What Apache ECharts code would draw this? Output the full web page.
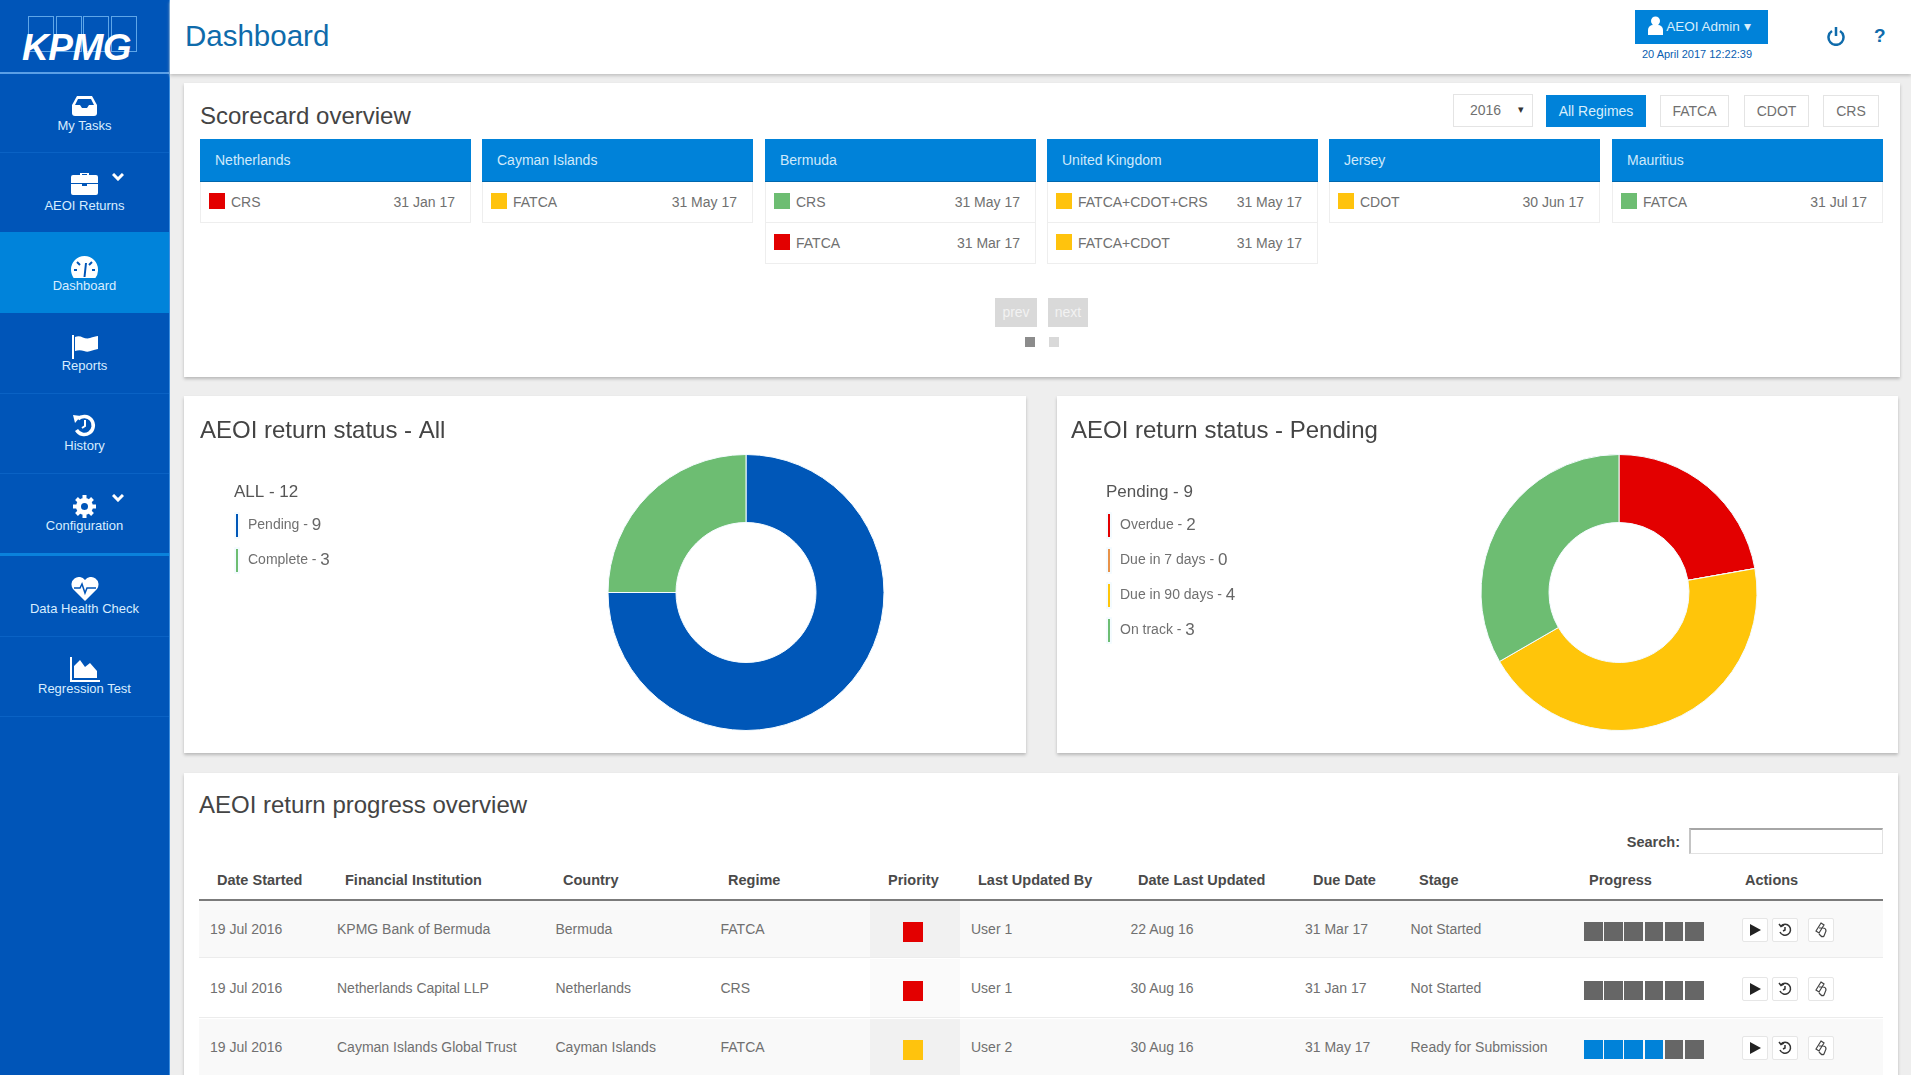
<!DOCTYPE html>
<html>
<head>
<meta charset="utf-8">
<title>Dashboard</title>
<script src="https://cdn.jsdelivr.net/npm/echarts@6/dist/echarts.min.js"></script>
<style>
html, body { margin: 0; padding: 0; width: 1911px; height: 1075px; overflow: hidden; background: #eeeeee; font-family: "Liberation Sans", Arial, sans-serif; color: #666; }
div, span { position: absolute; box-sizing: border-box; white-space: nowrap; }
svg { position: absolute; }
.card { background: #fff; box-shadow: 0 2px 3px #b9b9b9; }
.navLabel { left: 0; width: 169px; text-align: center; font-size: 13px; line-height: 14px; color: #d8edff; }
.navLine { left: 0; width: 169px; height: 1px; background: #0a62c4; }
.cardTitle { font-size: 24px; line-height: 28px; color: #444; }
.scoreHead { background: #0082d9; border-bottom: 1px solid #0067ad; color: #cfe9fb; font-size: 14px; line-height: 42px; padding-left: 15px; }
.scoreCell { background: #fff; border: 1px solid #eeeeee; border-top: 0; }
.scoreText { font-size: 14px; line-height: 16px; color: #707070; }
.tool { background: #fff; border: 1px solid #e4e4e4; font-size: 14px; text-align: center; color: #707070; }
.th { font-size: 14.5px; font-weight: bold; line-height: 16px; color: #4a4a4a; }
.td { font-size: 14px; line-height: 16px; color: #707070; }
.act { background: #fff; border: 1px solid #e6e6e6; border-radius: 2px; }
</style>
</head>
<body>
<div id="sidebar" style="left:0;top:0;width:170px;height:1075px;background:#0055b8;border-right:1px solid #3d8fe0"></div>
<div id="topbar" style="left:170px;top:0;width:1741px;height:74px;background:#fff;box-shadow:0 2px 3px #c4c4c4"></div>
<div id="content"></div>
<div id="pieAll" class="card" style="left:184px;top:396px;width:842px;height:357px"></div>
<div id="piePending" class="card" style="left:1057px;top:396px;width:841px;height:357px"></div>

<script>
// Donut data
const allNames = ['Pending', 'Complete'];
const allValues = [9, 3];
const pendingNames = ['Overdue', 'Due in 7 days', 'Due in 90 days', 'On track'];
const pendingValues = [2, 0, 4, 3];
const allTotalLabel = 'ALL - 12';
const pendingTotalLabel = 'Pending - 9';

// Scorecard data
const scoreCountries = ['Netherlands', 'Cayman Islands', 'Bermuda', 'United Kingdom', 'Jersey', 'Mauritius'];
const scoreRegimes = [['CRS'], ['FATCA'], ['CRS', 'FATCA'], ['FATCA+CDOT+CRS', 'FATCA+CDOT'], ['CDOT'], ['FATCA']];
const scoreDates = [['31 Jan 17'], ['31 May 17'], ['31 May 17', '31 Mar 17'], ['31 May 17', '31 May 17'], ['30 Jun 17'], ['31 Jul 17']];
const scoreStatus = [['red'], ['amber'], ['green', 'red'], ['amber', 'amber'], ['amber'], ['green']];
const regimeButtons = ['All Regimes', 'FATCA', 'CDOT', 'CRS'];

// Table data
const tableHeaders = ['Date Started', 'Financial Institution', 'Country', 'Regime', 'Priority', 'Last Updated By', 'Date Last Updated', 'Due Date', 'Stage', 'Progress', 'Actions'];
const dateStarted = ['19 Jul 2016', '19 Jul 2016', '19 Jul 2016'];
const institutions = ['KPMG Bank of Bermuda', 'Netherlands Capital LLP', 'Cayman Islands Global Trust'];
const countries = ['Bermuda', 'Netherlands', 'Cayman Islands'];
const regimes = ['FATCA', 'CRS', 'FATCA'];
const priorities = ['red', 'red', 'amber'];
const lastUpdatedBy = ['User 1', 'User 1', 'User 2'];
const dateLastUpdated = ['22 Aug 16', '30 Aug 16', '30 Aug 16'];
const dueDates = ['31 Mar 17', '31 Jan 17', '31 May 17'];
const stages = ['Not Started', 'Not Started', 'Ready for Submission'];
const progressDone = [0, 0, 4];
const progressSteps = 6;

// Sidebar
const navLabels = ['My Tasks', 'AEOI Returns', 'Dashboard', 'Reports', 'History', 'Configuration', 'Data Health Check', 'Regression Test'];

const statusColors = { red: '#e30000', amber: '#ffc30d', green: '#6dbd72' };
const pieColors = { all: ['#0057b8', '#6dbd72'], pending: ['#e30000', '#e8924a', '#ffc50a', '#6dbd72'] };

function add(parentId, cls, x, y, w, h, text) {
    let node = document.createElement('div');
    if (cls) node.className = cls;
    node.style.left = x + 'px';
    node.style.top = y + 'px';
    if (w !== null && w !== undefined) node.style.width = w + 'px';
    if (h !== null && h !== undefined) node.style.height = h + 'px';
    if (text) node.textContent = text;
    document.getElementById(parentId).appendChild(node);
    return node;
}

function addIcon(parentId, x, y, w, h, viewBox, inner) {
    let holder = document.createElement('span');
    holder.style.left = x + 'px';
    holder.style.top = y + 'px';
    holder.style.width = w + 'px';
    holder.style.height = h + 'px';
    holder.innerHTML = `<svg width="${w}" height="${h}" viewBox="${viewBox}">${inner}</svg>`;
    document.getElementById(parentId).appendChild(holder);
}

function drawSidebar() {
    // logo
    for (let i = 0; i < 4; i++) {
        let box = add('sidebar', '', 28 + i * 27.5, 16, 26, 36);
        box.style.border = '1px solid #5ea6e8';
    }
    let logo = add('sidebar', '', 22, 30, 125, 36, 'KPMG');
    logo.style.cssText += 'font-size:37px;line-height:36px;font-weight:bold;font-style:italic;color:#fff;letter-spacing:-0.5px';
    add('sidebar', 'navLine', 0, 72, null, 2).style.background = '#5a9fe6';

    let active = add('sidebar', '', 0, 232, 169, 81);
    active.style.background = '#0083da';

    const labelY = [119, 199, 279, 359, 439, 519, 602, 682];
    const lineY = [152, 473, 393, 636, 716];
    for (let i = 0; i < lineY.length; i++) add('sidebar', 'navLine', 0, lineY[i]);
    add('sidebar', 'navLine', 0, 553, null, 3).style.background = '#0a82dc';
    for (let i = 0; i < navLabels.length; i++) add('sidebar', 'navLabel', 0, labelY[i], null, null, navLabels[i]);

    // icons, roughly redrawn
    const white = 'fill="#fff"';
    addIcon('sidebar', 72, 96, 25, 20, '0 0 25 20', `<path ${white} d="M5 0h15l5 9v8a3 3 0 0 1-3 3H3a3 3 0 0 1-3-3V9z"/><path fill="#0055b8" d="M6 3h13l3 6h-5l-2 3h-5L8 9H3z"/>`);
    addIcon('sidebar', 71, 172, 27, 23, '0 0 27 23', `<path ${white} d="M9 3V1h9v2h7a2 2 0 0 1 2 2v6H0V5a2 2 0 0 1 2-2zM11 3h5V2h-5zM0 12h11v2h5v-2h11v9a2 2 0 0 1-2 2H2a2 2 0 0 1-2-2z"/>`);
    addIcon('sidebar', 71, 256, 27, 22, '0 0 27 22', `<path ${white} d="M13.5 0A13.5 13.5 0 0 0 0 13.5c0 3 1 6 2.6 8.500h21.800A13.500 13.500 0 0 0 27 13.500 13.500 13.500 0 0 0 13.500 0z"/><path stroke="#0055b8" stroke-width="2" d="M13.500 21L15 7M6 6l3 3M21 6l-3 3M3 14h3M21 14h3"/>`);
    addIcon('sidebar', 72, 335, 26, 24, '0 0 26 24', `<path ${white} d="M0 0h2v24H0zM3 2c6-3 9 3 15 1 3-1 6-2 8-2v13c-6 1-9 4-14 2-3-1-6-1-9 0z"/>`);
    addIcon('sidebar', 72, 413, 25, 25, '0 0 25 25', `<path fill="none" stroke="#fff" stroke-width="3.500" d="M6 6a9 9 0 1 1-1.500 11"/><path ${white} d="M1 2l8 1-6 7z"/><path fill="none" stroke="#fff" stroke-width="2" d="M13 7v6l-3 2"/>`);
    addIcon('sidebar', 73, 495, 23, 23, '0 0 23 23', `<circle cx="11.500" cy="11.500" r="6" fill="none" stroke="#fff" stroke-width="5"/><path stroke="#fff" stroke-width="4" d="M11.500 0v4M11.500 19v4M0 11.500h4M19 11.500h4M3.500 3.500l3 3M16.500 16.500l3 3M3.500 19.500l3-3M16.500 6.500l3-3"/>`);
    addIcon('sidebar', 71, 577, 28, 24, '0 0 28 24', `<path ${white} d="M14 24L2 12A7.500 7.500 0 0 1 14 3a7.500 7.500 0 0 1 12 9z"/><path fill="none" stroke="#0055b8" stroke-width="1.500" d="M3 11h6l2-4 3 9 2-5h9"/>`);
    addIcon('sidebar', 70, 657, 30, 26, '0 0 30 26', `<path ${white} d="M0 0h2v23h28v2H0zM4 21V9l6-6 5 7 5-4 7 8v7z"/>`);
    // chevrons
    const chevron = '<path fill="none" stroke="#fff" stroke-width="3" d="M1 1l5 5 5-5"/>';
    addIcon('sidebar', 112, 173, 12, 8, '0 0 12 8', chevron);
    addIcon('sidebar', 112, 494, 12, 8, '0 0 12 8', chevron);
}

function drawTopbar() {
    let title = add('topbar', '', 15, 19, null, 34, 'Dashboard');
    title.style.cssText += 'font-size:29.5px;line-height:34px;color:#0f6bab';
    let btn = add('topbar', '', 1465, 10, 133, 34);
    btn.style.background = '#0082d9';
    let btnText = add('topbar', '', 1479, 10, 119, 34, 'AEOI Admin ▾');
    btnText.style.cssText += 'font-size:13.5px;line-height:34px;color:#d8eefc;text-align:center';
    addIcon('topbar', 1478, 16, 15, 19, '0 0 15 19', '<circle cx="7.500" cy="5" r="4.500" fill="#fff"/><path fill="#fff" d="M0 19v-5a5 5 0 0 1 5-5h5a5 5 0 0 1 5 5v5z"/>');
    let stamp = add('topbar', '', 1467, 48, 120, 12, '20 April 2017 12:22:39');
    stamp.style.cssText += 'font-size:11px;line-height:12px;color:#0a5eb0;text-align:center';
    addIcon('topbar', 1657, 26, 18, 20, '0 0 18 20', '<path fill="none" stroke="#0f6bab" stroke-width="2.500" d="M5 5a7.500 7.500 0 1 0 8 0M9 1v9"/>');
    let help = add('topbar', '', 1704, 24, 12, 24, '?');
    help.style.cssText += 'font-size:19px;line-height:24px;font-weight:bold;color:#0f6bab';
}

function drawScorecard() {
    add('content', 'card', 184, 83, 1716, 294);
    add('content', 'cardTitle', 200, 102, null, null, 'Scorecard overview');

    // year select and regime buttons
    let year = add('content', 'tool', 1453, 94, 80, 33);
    year.style.cssText += 'line-height:31px;text-align:left;padding-left:16px';
    year.textContent = '2016';
    let arrow = add('content', '', 1518, 94, 12, 31, '▾');
    arrow.style.cssText += 'font-size:11px;line-height:31px;color:#333';
    const btnX = [1546, 1660, 1744, 1823];
    const btnW = [100, 69, 65, 56];
    for (let i = 0; i < regimeButtons.length; i++) {
        let b = add('content', 'tool', btnX[i], 95, btnW[i], 32, regimeButtons[i]);
        b.style.lineHeight = '30px';
        if (i === 0) {
            b.style.background = '#0082d9';
            b.style.border = '0';
            b.style.lineHeight = '32px';
            b.style.color = '#d8eefc';
        }
    }

    // one column per country
    const colX = [200, 482, 765, 1047, 1329, 1612];
    const colW = 271;
    for (let c = 0; c < scoreCountries.length; c++) {
        add('content', 'scoreHead', colX[c], 139, colW, 43, scoreCountries[c]);
        for (let r = 0; r < scoreRegimes[c].length; r++) {
            let top = 182 + r * 41;
            add('content', 'scoreCell', colX[c], top, colW, 41);
            add('content', '', colX[c] + 9, top + 11, 16, 16).style.background = statusColors[scoreStatus[c][r]];
            add('content', 'scoreText', colX[c] + 31, top + 12, null, null, scoreRegimes[c][r]);
            let d = add('content', 'scoreText', colX[c] + 170, top + 12, 85, null, scoreDates[c][r]);
            d.style.textAlign = 'right';
        }
    }

    // paging
    const pageX = [995, 1048];
    const pageW = [42, 40];
    const pageText = ['prev', 'next'];
    for (let i = 0; i < 2; i++) {
        let p = add('content', '', pageX[i], 298, pageW[i], 29, pageText[i]);
        p.style.cssText += 'background:#d9d9d9;color:#f2f2f2;font-size:14px;line-height:29px;text-align:center';
    }
    add('content', '', 1025, 337, 10, 10).style.background = '#8c8c8c';
    add('content', '', 1049, 337, 10, 10).style.background = '#d9d9d9';
}

function drawTable() {
    add('content', 'card', 184, 773, 1714, 320);
    add('content', 'cardTitle', 199, 791, null, null, 'AEOI return progress overview');

    let searchLabel = add('content', 'th', 1580, 834, 100, null, 'Search:');
    searchLabel.style.textAlign = 'right';
    let searchBox = add('content', '', 1689, 828, 194, 26);
    searchBox.style.cssText += 'background:#fff;border:1px solid #e2e2e2;border-top:2px solid #a6a6a6;border-left:2px solid #c4c4c4';

    const headX = [217, 345, 563, 728, 888, 978, 1138, 1313, 1419, 1589, 1745];
    for (let i = 0; i < tableHeaders.length; i++) add('content', 'th', headX[i], 872, null, null, tableHeaders[i]);
    add('content', '', 199, 899, 1684, 2).style.background = '#7b7b7b';

    const rowY = [901, 959, 1019];
    const rowH = [57, 59, 60];
    const textColumns = [dateStarted, institutions, countries, regimes, lastUpdatedBy, dateLastUpdated, dueDates, stages];
    const textX = [210, 337, 555.5, 720.5, 971, 1130.5, 1305, 1410.5];
    for (let r = 0; r < rowY.length; r++) {
        let odd = r % 2 === 0;
        let row = add('content', '', 199, rowY[r], 1684, rowH[r]);
        row.style.background = odd ? '#f9f9f9' : '#fff';
        row.style.borderBottom = '1px solid #ececec';
        add('content', '', 870, rowY[r], 90, rowH[r] - 1).style.background = odd ? '#f1f1f1' : '#fafafa';

        let textY = [921, 980, 1039][r];
        for (let c = 0; c < textColumns.length; c++) add('content', 'td', textX[c], textY, null, null, textColumns[c][r]);

        add('content', '', 903, textY + 1, 20, 20).style.background = statusColors[priorities[r]];
        for (let s = 0; s < progressSteps; s++) {
            let block = add('content', '', 1584 + s * 20.2, textY + 1, 18.5, 19);
            block.style.background = s < progressDone[r] ? '#0082d9' : '#666666';
        }
        // action buttons
        const actX = [1742, 1772, 1808];
        for (let a = 0; a < actX.length; a++) add('content', 'act', actX[a], textY - 3, 26, 24);
        addIcon('content', 1750, textY + 3, 11, 12, '0 0 11 12', '<path fill="#222" d="M0 0l11 6-11 6z"/>');
        addIcon('content', 1778, textY + 2, 14, 14, '0 0 14 14', '<path fill="none" stroke="#333" stroke-width="1.500" d="M3 3a5.500 5.500 0 1 1-1 6M1 1l2 2.500L6 2M7 4v3l-2 1"/>');
        addIcon('content', 1815, textY + 1, 14, 16, '0 0 14 16', '<path fill="none" stroke="#444" stroke-width="1.200" d="M6 1l3 2-5 8-3-2zM4 6h4a3 3 0 0 1 3 3l-2 5a2 2 0 0 1-3 0L4 12"/>');
    }
}

function drawPie(domId, title, totalLabel, names, values, colors, titleLeft, legendLeft) {
    let myChart = echarts.init(document.getElementById(domId));
    let seriesData = [];
    for (let i = 0; i < names.length; i++) {
        seriesData.push({ name: names[i], value: values[i] });
    }
    let option = {
        animation: false,
        color: colors,
        title: [
            { text: title, left: titleLeft, top: 23, padding: 0, textStyle: { fontFamily: 'Liberation Sans', fontSize: 24, fontWeight: 'normal', color: '#444' } },
            { text: totalLabel, left: legendLeft, top: 88, padding: 0, textStyle: { fontFamily: 'Liberation Sans', fontSize: 17, fontWeight: 'normal', color: '#555' } }
        ],
        legend: {
            orient: 'vertical',
            left: legendLeft,
            top: 116,
            padding: 0,
            itemGap: 8,
            itemWidth: 4,
            itemHeight: 25,
            icon: 'rect',
            selectedMode: false,
            data: names,
            formatter: function (name) {
                return `{gap|}{n|${name} - }{v|${values[names.indexOf(name)]}}`;
            },
            textStyle: {
                fontFamily: 'Liberation Sans',
                rich: {
                    gap: { width: 4 },
                    n: { fontSize: 14, color: '#707070', fontFamily: 'Liberation Sans' },
                    v: { fontSize: 17, color: '#666', fontFamily: 'Liberation Sans' }
                }
            }
        },
        series: [
            {
                name: title,
                type: 'pie',
                center: [562, 196.5],
                radius: [70, 138],
                startAngle: 90,
                silent: true,
                stillShowZeroSum: false,
                label: { show: false },
                labelLine: { show: false },
                itemStyle: { borderColor: '#f4fbff', borderWidth: 1 },
                data: seriesData
            }
        ]
    };
    myChart.setOption(option);
}

drawSidebar();
drawTopbar();
drawScorecard();
drawTable();
drawPie('pieAll', 'AEOI return status - All', allTotalLabel, allNames, allValues, pieColors.all, 16, 50);
drawPie('piePending', 'AEOI return status - Pending', pendingTotalLabel, pendingNames, pendingValues, pieColors.pending, 14, 49);
</script>
</body>
</html>
